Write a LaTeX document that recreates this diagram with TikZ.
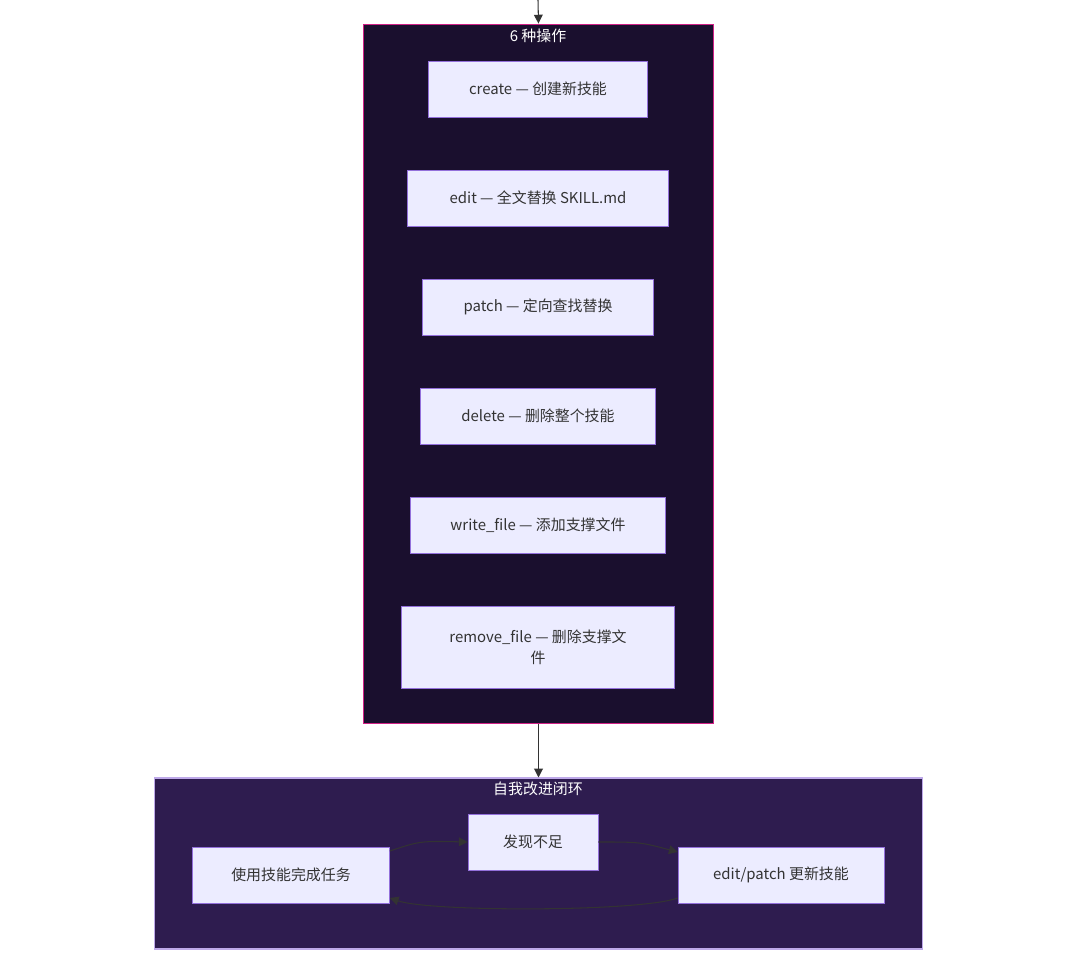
\documentclass[tikz,border=0pt]{standalone}
\usepackage{fontspec}
\setmainfont{Noto Sans CJK SC}
\usetikzlibrary{arrows.meta,positioning}
\definecolor{nodefill}{HTML}{ECECFF}
\definecolor{nodeline}{HTML}{9370DB}
\definecolor{opsfill}{HTML}{1A0F2E}
\definecolor{loopfill}{HTML}{2E1C4F}
\definecolor{arrowcol}{HTML}{333333}
\begin{document}
\begin{tikzpicture}[
  x=0.02cm, y=-0.02cm,
  font=\fontsize{8.5}{12}\selectfont,
  >={Triangle[length=5pt,width=5pt]},
  op/.style={rectangle, draw=nodeline, fill=nodefill, text=black!80, align=center, minimum height=1.12cm, inner sep=2pt},
  cluster/.style={rectangle, draw, line width=0.6pt},
  line/.style={draw=arrowcol, ->, line width=0.6pt}
]
\useasboundingbox (0,0) rectangle (1080,966);

% clusters
\node[cluster, draw=magenta!70!violet, fill=opsfill, minimum width=7.02cm, minimum height=14cm] (ops) at (538.5,374) {};
\node[text=white] at (538,36) {6 种操作};
\node[cluster, draw=nodeline!60!white, fill=loopfill, minimum width=15.38cm, minimum height=3.42cm] (loop) at (538.5,863.5) {};
\node[text=white] at (538,789) {自我改进闭环};

% operations
\node[op, minimum width=4.38cm] (create) at (538,89) {create — 创建新技能};
\node[op, minimum width=5.22cm] (edit) at (538,198) {edit — 全文替换 SKILL.md};
\node[op, minimum width=4.62cm] (patch) at (538,307) {patch — 定向查找替换};
\node[op, minimum width=4.70cm] (delete) at (538,416) {delete — 删除整个技能};
\node[op, minimum width=5.10cm] (writefile) at (538,525) {write\_file — 添加支撑文件};
\node[op, minimum width=5.46cm, minimum height=1.64cm] (removefile) at (538,647) {remove\_file — 删除支撑文\\件};

% loop
\node[op, minimum width=3.94cm] (use) at (291,875) {使用技能完成任务};
\node[op, minimum width=2.60cm] (find) at (533,842) {发现不足};
\node[op, minimum width=4.12cm] (update) at (781,875) {edit/patch 更新技能};

\coordinate (top) at (538,0);
\path[line] (top) -- (ops.north);
\path[line] (ops.south) -- (loop.north);
\path[line] (use.east |- 0,851) .. controls (420,841) .. (find.west);
\path[line] (find.east) .. controls (640,842) .. (update.west |- 0,852);
\path[line] (update.west |- 0,898) .. controls (640,912) and (430,912) .. (use.east |- 0,898);
\end{tikzpicture}
\end{document}
